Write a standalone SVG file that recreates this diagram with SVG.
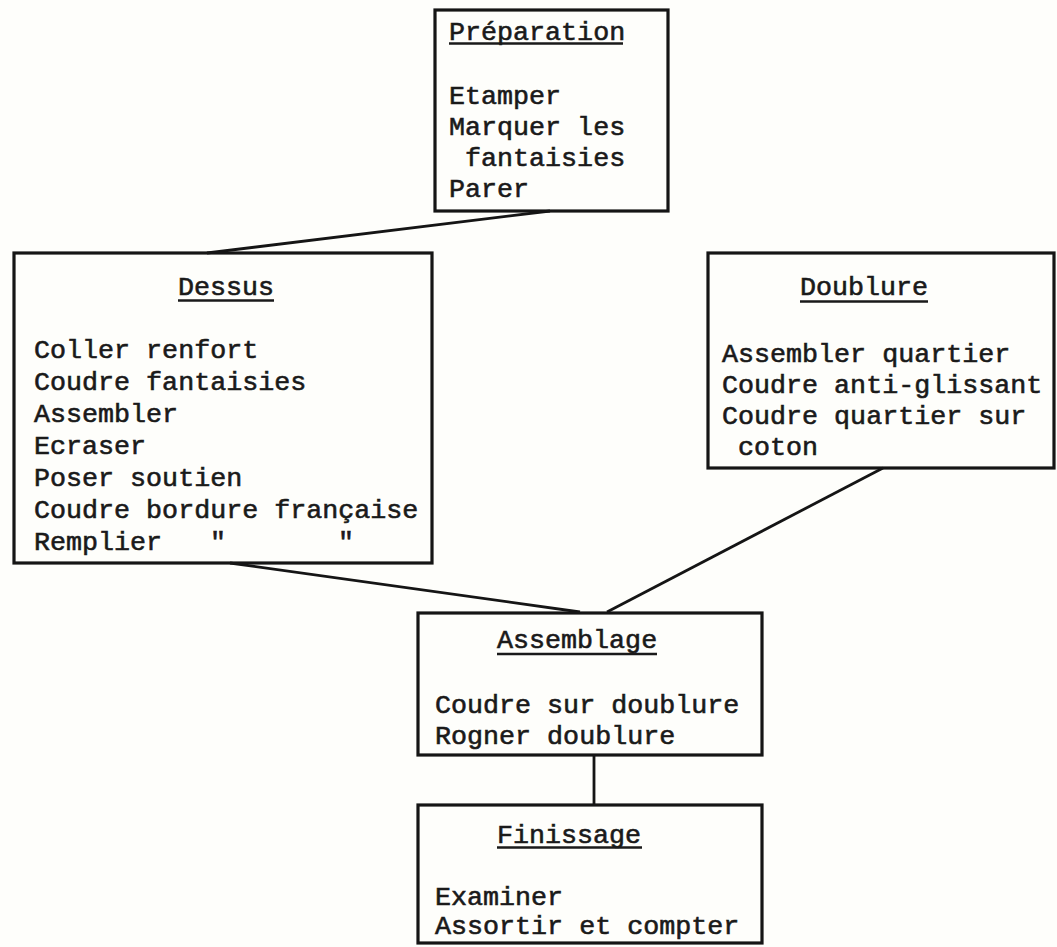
<svg xmlns="http://www.w3.org/2000/svg" width="1057" height="947" viewBox="0 0 1057 947">
<style>
.box{fill:none;stroke:#151515;stroke-width:3.2}
.t{font-family:"Liberation Mono","Courier New",monospace;font-size:26.7px;fill:#1a1a1a;stroke:#1a1a1a;stroke-width:0.6}
.u{stroke:#1a1a1a;stroke-width:2.4}
.c{stroke:#151515;stroke-width:2.8;fill:none}
</style>
<rect width="1057" height="947" fill="#fefefb"/>
<g id="connectors">
<line class="c" x1="550" y1="211" x2="207" y2="253"/>
<line class="c" x1="230" y1="563" x2="580" y2="612"/>
<line class="c" x1="883" y1="468" x2="607" y2="612"/>
<line class="c" x1="594" y1="755" x2="594" y2="805"/>
</g>
<g id="preparation">
<rect class="box" x="435" y="10" width="233" height="201"/>
<text class="t" x="449" y="40">Préparation</text>
<line class="u" x1="449" y1="43.5" x2="623" y2="43.5"/>
<text class="t" x="449" y="104">Etamper</text>
<text class="t" x="449" y="135">Marquer les</text>
<text class="t" x="449" y="166">&#160;fantaisies</text>
<text class="t" x="449" y="197">Parer</text>
</g>
<g id="dessus">
<rect class="box" x="14" y="253" width="418" height="310"/>
<text class="t" x="178" y="295">Dessus</text>
<line class="u" x1="178" y1="300.5" x2="274" y2="300.5"/>
<text class="t" x="34" y="358">Coller renfort</text>
<text class="t" x="34" y="390">Coudre fantaisies</text>
<text class="t" x="34" y="422">Assembler</text>
<text class="t" x="34" y="454">Ecraser</text>
<text class="t" x="34" y="486">Poser soutien</text>
<text class="t" x="34" y="518">Coudre bordure française</text>
<text class="t" x="34" y="550">Remplier</text>
<text class="t" x="210" y="550">"</text>
<text class="t" x="338" y="550">"</text>
</g>
<g id="doublure">
<rect class="box" x="708" y="253" width="346" height="215"/>
<text class="t" x="800" y="295">Doublure</text>
<line class="u" x1="800" y1="301.5" x2="928" y2="301.5"/>
<text class="t" x="722" y="362">Assembler quartier</text>
<text class="t" x="722" y="393">Coudre anti-glissant</text>
<text class="t" x="722" y="424">Coudre quartier sur</text>
<text class="t" x="722" y="455">&#160;coton</text>
</g>
<g id="assemblage">
<rect class="box" x="418" y="613" width="344" height="142"/>
<text class="t" x="497" y="648">Assemblage</text>
<line class="u" x1="497" y1="654" x2="657" y2="654"/>
<text class="t" x="435" y="713">Coudre sur doublure</text>
<text class="t" x="435" y="744">Rogner doublure</text>
</g>
<g id="finissage">
<rect class="box" x="418" y="805" width="344" height="138"/>
<text class="t" x="497" y="843">Finissage</text>
<line class="u" x1="497" y1="847.5" x2="642" y2="847.5"/>
<text class="t" x="435" y="905">Examiner</text>
<text class="t" x="435" y="934">Assortir et compter</text>
</g>
</svg>
